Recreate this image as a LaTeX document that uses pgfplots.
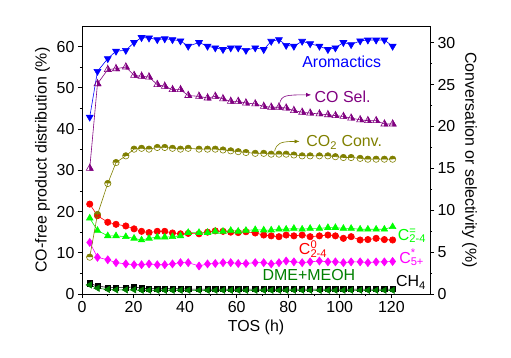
\documentclass[border=0pt]{standalone}
\usepackage{fontspec}
\setmainfont{Liberation Sans}
\usepackage{pgfplots}
\pgfplotsset{compat=1.18}
\usepackage{pgfplotstable}
\usetikzlibrary{arrows.meta,plotmarks}

\definecolor{cblue}{RGB}{0,0,255}
\definecolor{cpurple}{RGB}{128,0,128}
\definecolor{colive}{RGB}{128,128,0}
\definecolor{cred}{RGB}{255,0,0}
\definecolor{cgreen}{RGB}{0,255,0}
\definecolor{cmag}{RGB}{255,0,255}
\definecolor{cdkgreen}{RGB}{0,128,0}

\pgfdeclareplotmark{halftri}{%
  \pgfpathmoveto{\pgfqpoint{0pt}{\pgfplotmarksize}}%
  \pgfpathlineto{\pgfqpointpolar{-30}{\pgfplotmarksize}}%
  \pgfpathlineto{\pgfqpoint{0pt}{-0.5\pgfplotmarksize}}%
  \pgfpathclose
  \pgfusepathqfillstroke
  \pgfpathmoveto{\pgfqpoint{0pt}{\pgfplotmarksize}}%
  \pgfpathlineto{\pgfqpointpolar{-30}{\pgfplotmarksize}}%
  \pgfpathlineto{\pgfqpointpolar{210}{\pgfplotmarksize}}%
  \pgfpathclose
  \pgfusepathqstroke
}
\pgfdeclareplotmark{halfcirc}{%
  \pgfpathmoveto{\pgfqpoint{\pgfplotmarksize}{0pt}}%
  \pgfpatharc{0}{180}{\pgfplotmarksize}%
  \pgfpathclose
  \pgfusepathqfill
  \pgfpathcircle{\pgfpointorigin}{\pgfplotmarksize}%
  \pgfusepathqstroke
}

\pgfplotstableread{
t arom cosel conv c24o c24 c5 dme ch4
3 42.9 15.0 4.4 21.8 18.4 12.5 2.2 2.6
6 54.0 25.1 9.5 19.0 15.4 8.9 1.4 1.9
10 57.1 26.8 13.2 17.4 14.1 8.3 1.1 1.6
13.2 58.9 26.9 15.7 16.9 14.1 7.6 1.0 1.6
17 59.1 27.1 16.5 16.5 13.9 7.3 1.0 1.6
20.2 61.0 26.1 17.3 15.8 13.5 7.1 1.0 1.7
23.1 62.2 26.0 17.4 15.2 13.1 7.1 0.9 1.4
26 62.1 25.9 17.3 14.9 13.5 7.3 0.9 1.3
29.2 61.7 25.0 17.5 15.2 13.8 7.1 0.9 1.3
32.1 61.9 24.8 17.5 15.2 13.8 7.1 0.9 1.3
35.1 61.7 24.4 17.4 14.8 13.9 7.3 0.9 1.3
38.2 61.4 24.4 17.3 14.6 14.1 7.6 0.9 1.3
41.2 60.1 23.7 17.4 14.7 14.9 7.6 0.9 1.2
45.4 61.0 23.6 17.3 14.6 14.9 6.8 0.9 1.2
48.7 60.1 23.4 17.3 15.0 14.9 7.3 0.9 1.2
51.7 59.7 23.6 17.3 15.3 15.2 7.4 0.9 1.2
54.7 59.3 23.3 17.2 15.2 15.2 7.6 0.9 1.2
57.7 59.7 23.0 17.1 15.0 15.4 7.6 0.9 1.2
60.6 59.7 23.0 17.0 14.9 15.2 7.4 0.9 1.2
63.6 59.1 22.8 16.9 15.1 15.4 7.4 0.9 1.2
67.2 59.7 22.7 16.8 14.8 15.6 7.6 0.9 1.2
70.5 59.3 22.4 16.8 14.3 15.5 7.6 0.9 1.2
73.4 61.3 22.3 16.7 14.1 15.5 7.3 0.9 1.2
76.4 61.7 22.3 16.7 13.9 15.7 7.6 0.9 1.2
79.2 60.3 22.2 16.7 14.3 15.7 8.0 0.9 1.2
82.2 60.1 21.9 16.6 14.1 15.9 7.8 0.9 1.2
85.4 61.3 21.7 16.5 14.3 15.7 7.6 0.9 1.2
88.5 60.7 21.6 16.5 13.9 15.9 7.8 0.9 1.2
92.1 60.1 21.5 16.5 14.1 15.9 8.0 0.9 1.2
95.4 59.3 21.4 16.5 14.3 16.1 7.8 0.9 1.2
98.3 59.7 21.3 16.4 14.1 16.1 7.8 0.9 1.2
101.4 61.0 21.2 16.3 13.5 15.9 7.6 0.9 1.2
104.4 60.5 21.0 16.3 13.9 15.9 7.8 0.9 1.2
107.9 61.4 20.8 16.2 13.1 15.7 7.8 0.9 1.2
110.9 61.6 20.7 16.1 13.2 15.7 7.6 0.9 1.2
114.1 61.6 20.7 16.1 13.5 15.7 7.8 0.9 1.2
117.3 61.6 20.3 16.1 13.2 15.7 7.8 0.9 1.2
120.5 60.1 20.3 16.1 13.1 16.3 7.9 0.9 1.2
}\data

\pgfplotsset{
  myaxis/.style={
    at={(0,0)}, anchor=south west,
    scale only axis, width=348bp, height=268bp,
    xmin=0, xmax=135,
    tick align=outside,
    major tick length=4bp, minor tick length=2bp,
    axis line style={line width=0.9pt},
    every tick/.style={line width=0.8pt, black},
    /pgf/number format/assume math mode=true,
    tick label style={font=\fontsize{16}{19}\selectfont},
    label style={font=\fontsize{16}{19}\selectfont},
    every axis plot/.append style={line width=0.6pt},
  }
}

\begin{document}
\begin{tikzpicture}
\useasboundingbox (-82bp,-64bp) rectangle (429bp,294bp);
\begin{axis}[myaxis,
  ymin=0, ymax=65,
  xtick={0,20,...,120}, minor x tick num=1,
  ytick={0,10,...,60}, minor y tick num=1,
  xtick pos=bottom, ytick pos=left,
  xlabel={TOS (h)},
  ylabel={CO-free product distribution (\%)},
  clip=false,
]
\addplot[cred, mark=*, mark size=3.2bp] table[x=t,y=c24o]{\data};
\addplot[cgreen, mark=triangle*, mark size=3.8bp] table[x=t,y=c24]{\data};
\addplot[cmag, mark=diamond*, mark size=4bp] table[x=t,y=c5]{\data};
\addplot[black, mark=square*, mark size=2.6bp] table[x=t,y=ch4]{\data};
\addplot[cdkgreen, mark=triangle*, mark size=3.6bp, mark options={rotate=90}] table[x=t,y=dme]{\data};
\addplot[cblue, mark=triangle*, mark size=4bp, mark options={rotate=180}] table[x=t,y=arom]{\data};

\node[cblue, anchor=base west, font=\fontsize{16}{19}\selectfont, inner sep=0pt] at (axis cs:85.4,55.0) {Aromactics};
\node[cpurple, anchor=base west, font=\fontsize{16}{19}\selectfont, inner sep=0pt] at (axis cs:90.2,46.5) {CO Sel.};
\node[colive, anchor=base west, font=\fontsize{16}{19}\selectfont, inner sep=0pt] at (axis cs:87.0,35.7) {CO\textsubscript{2} Conv.};
\node[cgreen, anchor=base west, font=\fontsize{16}{19}\selectfont, inner sep=0pt] at (axis cs:122.5,13.0) {C\rlap{\textsuperscript{=}}\textsubscript{2-4}};
\node[cred, anchor=base west, font=\fontsize{16}{19}\selectfont, inner sep=0pt] at (axis cs:84.1,9.5) {C\rlap{\textsuperscript{0}}\textsubscript{2-4}};
\node[cmag, anchor=base west, font=\fontsize{16}{19}\selectfont, inner sep=0pt] at (axis cs:123,7.5) {C\rlap{\textsuperscript{*}}\textsubscript{5+}};
\node[cdkgreen, anchor=base west, font=\fontsize{16}{19}\selectfont, inner sep=0pt] at (axis cs:70.0,3.2) {DME+MEOH};
\node[black, anchor=base west, font=\fontsize{16}{19}\selectfont, inner sep=0pt] at (axis cs:121.8,1.8) {CH\textsubscript{4}};

\draw[cpurple, line width=0.6pt, -{Latex[length=5bp,width=4bp]}] (axis cs:76.7,46.3) .. controls (axis cs:77.5,48.2) and (axis cs:79,48.3) .. (axis cs:88.9,48.3);
\draw[colive, line width=0.6pt, -{Latex[length=5bp,width=4bp]}] (axis cs:74.7,34.6) .. controls (axis cs:75.5,36.6) and (axis cs:77,37.0) .. (axis cs:84.4,37.0);
\end{axis}
\begin{axis}[myaxis,
  axis x line=none, axis y line*=right,
  ymin=0, ymax=32,
  ytick={0,5,...,30}, minor y tick num=1,
  ylabel={Conversation or selectivity (\%)},
  ylabel style={rotate=180},
]
\addplot[colive, mark=halfcirc, mark size=3.2bp, mark options={fill=colive, draw=colive}] table[x=t,y=conv]{\data};
\addplot[cpurple, mark=halftri, mark size=4bp, mark options={fill=cpurple, draw=cpurple}] table[x=t,y=cosel]{\data};
\end{axis}
\end{tikzpicture}
\end{document}
